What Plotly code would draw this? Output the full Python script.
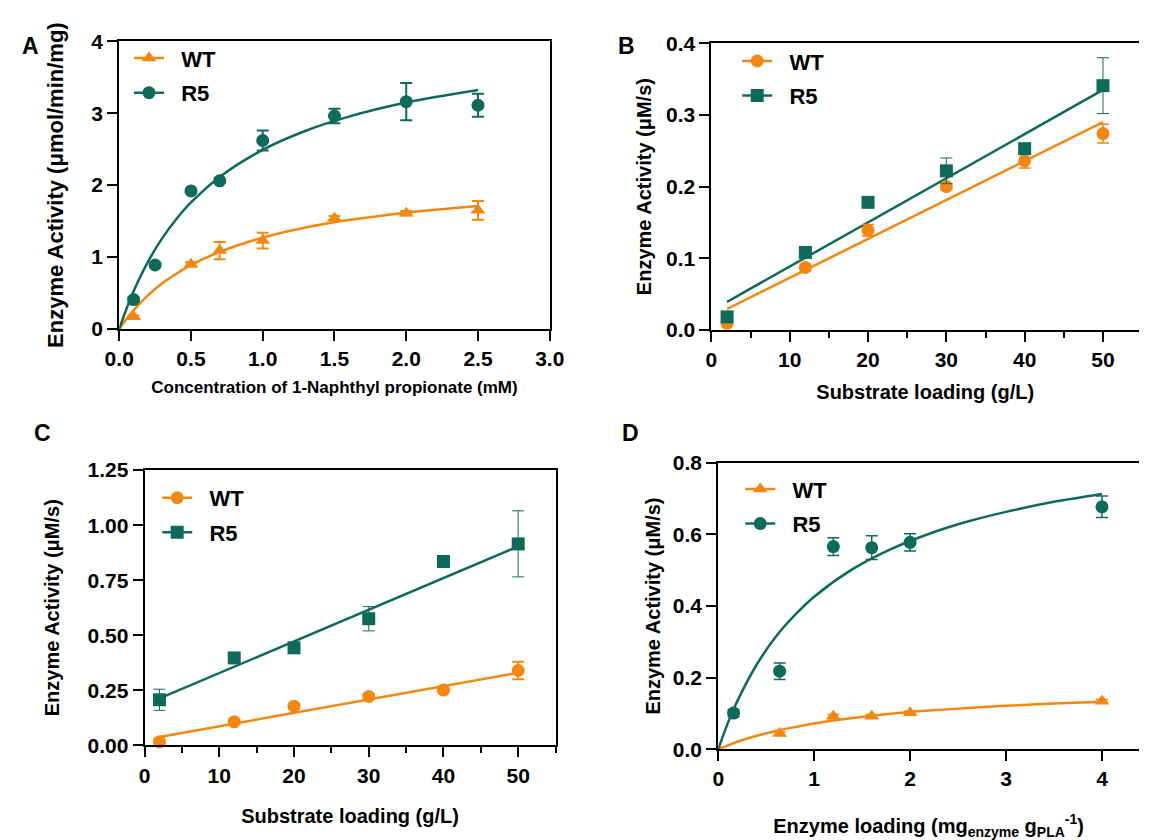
import plotly.graph_objects as go

W, H = 1154, 840
ORANGE = "#F5870F"
TEAL = "#0E6B5C"
FONT = "Arial, Liberation Sans, sans-serif"

# ---------------- Panel A ----------------
a_x_wt = [0.1, 0.5, 0.7, 1.0, 1.5, 2.0, 2.5]
a_y_wt = [0.17, 0.90, 1.09, 1.23, 1.54, 1.61, 1.65]
a_e_wt = [0.02, 0.03, 0.12, 0.11, 0.03, 0.03, 0.13]
a_x_r5 = [0.1, 0.25, 0.5, 0.7, 1.0, 1.5, 2.0, 2.5]
a_y_r5 = [0.41, 0.89, 1.92, 2.06, 2.62, 2.96, 3.16, 3.11]
a_e_r5 = [0.03, 0.03, 0.03, 0.03, 0.14, 0.10, 0.26, 0.16]
a_fit_x = [0, 0.05, 0.1, 0.2, 0.3, 0.4, 0.5, 0.7, 1.0, 1.3, 1.6, 2.0, 2.5]
a_fit_wt = [0, 0.139, 0.261, 0.468, 0.635, 0.773, 0.889, 1.073, 1.27, 1.41, 1.514, 1.617, 1.71]
a_fit_r5 = [0, 0.279, 0.525, 0.934, 1.263, 1.533, 1.759, 2.114, 2.491, 2.756, 2.952, 3.147, 3.321]

# ---------------- Panel B ----------------
b_x = [2, 12, 20, 30, 40, 50]
b_y_wt = [0.009, 0.087, 0.139, 0.200, 0.236, 0.274]
b_e_wt = [0.002, 0.005, 0.008, 0.004, 0.010, 0.013]
b_y_r5 = [0.018, 0.108, 0.178, 0.222, 0.253, 0.341]
b_e_r5 = [0.003, 0.005, 0.004, 0.018, 0.006, 0.039]
b_fit_x = [2, 50]
b_fit_wt = [0.029, 0.290]
b_fit_r5 = [0.039, 0.335]

# ---------------- Panel C ----------------
c_x = [2, 12, 20, 30, 40, 50]
c_y_wt = [0.016, 0.107, 0.178, 0.222, 0.251, 0.340]
c_e_wt = [0.01, 0.01, 0.01, 0.01, 0.01, 0.04]
c_y_r5 = [0.207, 0.397, 0.443, 0.575, 0.835, 0.915]
c_e_r5 = [0.048, 0.01, 0.02, 0.055, 0.01, 0.15]
c_fit_x = [2, 50]
c_fit_wt = [0.038, 0.330]
c_fit_r5 = [0.213, 0.904]

# ---------------- Panel D ----------------
d_x_wt = [0.64, 1.2, 1.6, 2.0, 4.0]
d_y_wt = [0.044, 0.092, 0.092, 0.102, 0.134]
d_e_wt = [0.005, 0.005, 0.005, 0.005, 0.005]
d_x_r5 = [0.16, 0.64, 1.2, 1.6, 2.0, 4.0]
d_y_r5 = [0.101, 0.218, 0.566, 0.563, 0.578, 0.677]
d_e_r5 = [0.01, 0.023, 0.025, 0.033, 0.024, 0.03]
d_fit_x = [0, 0.1, 0.2, 0.4, 0.6, 0.8, 1.0, 1.4, 1.8, 2.2, 2.6, 3.0, 3.5, 4.0]
d_fit_wt = [0, 0.011, 0.021, 0.0375, 0.051, 0.062, 0.072, 0.087, 0.099, 0.108, 0.115, 0.1215, 0.128, 0.133]
d_fit_r5 = [0, 0.073, 0.135, 0.236, 0.314, 0.375, 0.426, 0.503, 0.559, 0.602, 0.636, 0.663, 0.691, 0.713]

series_names = ["WT", "R5"]

fig = go.Figure()


def add_panel(ax, leg, fits, points, symbols, err_thick):
    xa = "x" if ax == 1 else f"x{ax}"
    ya = "y" if ax == 1 else f"y{ax}"
    colors = [ORANGE, TEAL]
    for i, (fx, fy) in enumerate(fits):
        fig.add_trace(go.Scatter(x=fx, y=fy, mode="lines", line=dict(color=colors[i], width=2.5, shape="spline"),
                                 xaxis=xa, yaxis=ya, showlegend=False, hoverinfo="skip", cliponaxis=False))
    for i, (px, py, pe) in enumerate(points):
        fig.add_trace(go.Scatter(x=px, y=py, mode="markers",
                                 marker=dict(symbol=symbols[i], size=13, color=colors[i]),
                                 error_y=dict(type="data", array=pe, visible=True, color=colors[i],
                                              thickness=err_thick[i], width=6),
                                 xaxis=xa, yaxis=ya, showlegend=False, cliponaxis=False))
    for i in range(2):
        fig.add_trace(go.Scatter(x=[None], y=[None], mode="lines+markers",
                                 name="\u00a0\u00a0" + series_names[i],
                                 line=dict(color=colors[i], width=2.5),
                                 marker=dict(symbol=symbols[i], size=13, color=colors[i]),
                                 xaxis=xa, yaxis=ya, legend=leg, legendgroup=f"{leg}{i}"))


add_panel(1, "legend", [(a_fit_x, a_fit_wt), (a_fit_x, a_fit_r5)],
          [(a_x_wt, a_y_wt, a_e_wt), (a_x_r5, a_y_r5, a_e_r5)], ["triangle-up", "circle"], [2, 2])
add_panel(2, "legend2", [(b_fit_x, b_fit_wt), (b_fit_x, b_fit_r5)],
          [(b_x, b_y_wt, b_e_wt), (b_x, b_y_r5, b_e_r5)], ["circle", "square"], [1.5, 1])
add_panel(3, "legend3", [(c_fit_x, c_fit_wt), (c_fit_x, c_fit_r5)],
          [(c_x, c_y_wt, c_e_wt), (c_x, c_y_r5, c_e_r5)], ["circle", "square"], [2, 1])
add_panel(4, "legend4", [(d_fit_x, d_fit_wt), (d_fit_x, d_fit_r5)],
          [(d_x_wt, d_y_wt, d_e_wt), (d_x_r5, d_y_r5, d_e_r5)], ["triangle-up", "circle"], [1.5, 1.5])


def px2x(p):
    return p / W


def px2y(p):
    return 1 - p / H


axis_common = dict(showline=True, linecolor="black", linewidth=2, ticks="outside", ticklen=10,
                   tickwidth=2, tickcolor="black", showgrid=False, zeroline=False,
                   tickfont=dict(size=21, family=FONT, color="black", weight="bold"))

fig.update_layout(
    width=W, height=H, margin=dict(l=0, r=0, t=0, b=0),
    paper_bgcolor="white", plot_bgcolor="white",
    font=dict(family=FONT, color="black", weight="bold"),
    # Panel A
    xaxis=dict(domain=[px2x(107), px2x(549)], range=[0, 3], dtick=0.5, tickformat=".1f", anchor="y",
               mirror=True, title=dict(text="Concentration of 1-Naphthyl propionate (mM)",
                                       font=dict(size=17, weight="bold"), standoff=12), **axis_common),
    yaxis=dict(domain=[px2y(326), px2y(30)], range=[0, 4], dtick=1, anchor="x", mirror=True,
               title=dict(text="Enzyme Activity (μmol/min/mg)", font=dict(size=22, weight="bold"), standoff=22),
               **axis_common),
    # Panel B
    xaxis2=dict(domain=[px2x(715), 1.0], range=[0, 54.6], dtick=10, anchor="y2", mirror=True,
                minor=dict(dtick=5, ticklen=6, tickwidth=2, tickcolor="black", ticks="outside"),
                title=dict(text="Substrate loading (g/L)", font=dict(size=20, weight="bold"), standoff=15),
                **axis_common),
    yaxis2=dict(domain=[px2y(326.7), px2y(32.3)], range=[0, 0.4], dtick=0.1, tickformat=".1f", anchor="x2",
                title=dict(text="Enzyme Activity (μM/s)", font=dict(size=20, weight="bold"), standoff=9),
                **axis_common),
    # Panel C
    xaxis3=dict(domain=[px2x(133), px2x(555)], range=[0, 55], dtick=10, anchor="y3", mirror=True,
                minor=dict(dtick=5, ticklen=6, tickwidth=2, tickcolor="black", ticks="outside"),
                title=dict(text="Substrate loading (g/L)", font=dict(size=20, weight="bold"), standoff=23),
                **axis_common),
    yaxis3=dict(domain=[px2y(754), px2y(471)], range=[0, 1.25], dtick=0.25, tickformat=".2f", anchor="x3",
                mirror=True,
                title=dict(text="Enzyme Activity (μM/s)", font=dict(size=20, weight="bold"), standoff=22),
                **axis_common),
    # Panel D
    xaxis4=dict(domain=[px2x(722), 1.0], range=[0, 4.386], dtick=1, anchor="y4", mirror=True,
                title=dict(text="Enzyme loading (mg<sub>enzyme</sub> g<sub>PLA</sub><sup>-1</sup>)",
                           font=dict(size=20, weight="bold"), standoff=33),
                **axis_common),
    yaxis4=dict(domain=[px2y(758), px2y(463.5)], range=[0, 0.8], dtick=0.2, tickformat=".1f", anchor="x4",
                title=dict(text="Enzyme Activity (μM/s)", font=dict(size=20, weight="bold"), standoff=7),
                **axis_common),
)

leg_common = dict(font=dict(size=22, family=FONT, color="black", weight="bold"), bgcolor="rgba(0,0,0,0)",
                  xanchor="left", yanchor="top", tracegroupgap=3, itemwidth=30)
fig.update_layout(
    legend=dict(x=px2x(117), y=px2y(26), **leg_common),
    legend2=dict(x=px2x(741.5), y=px2y(29), **leg_common),
    legend3=dict(x=px2x(146), y=px2y(478), **leg_common),
    legend4=dict(x=px2x(744.6), y=px2y(469), **leg_common),
)

for lbl, (lx, ly) in {"A": (15.5, 35), "B": (628, 34.5), "C": (28, 433), "D": (632, 433)}.items():
    fig.add_annotation(text=lbl, x=px2x(lx), y=px2y(ly), xref="paper", yref="paper", showarrow=False,
                       xanchor="center", yanchor="middle", font=dict(size=23, family=FONT, color="black", weight="bold"))

fig.write_html("out.html")
